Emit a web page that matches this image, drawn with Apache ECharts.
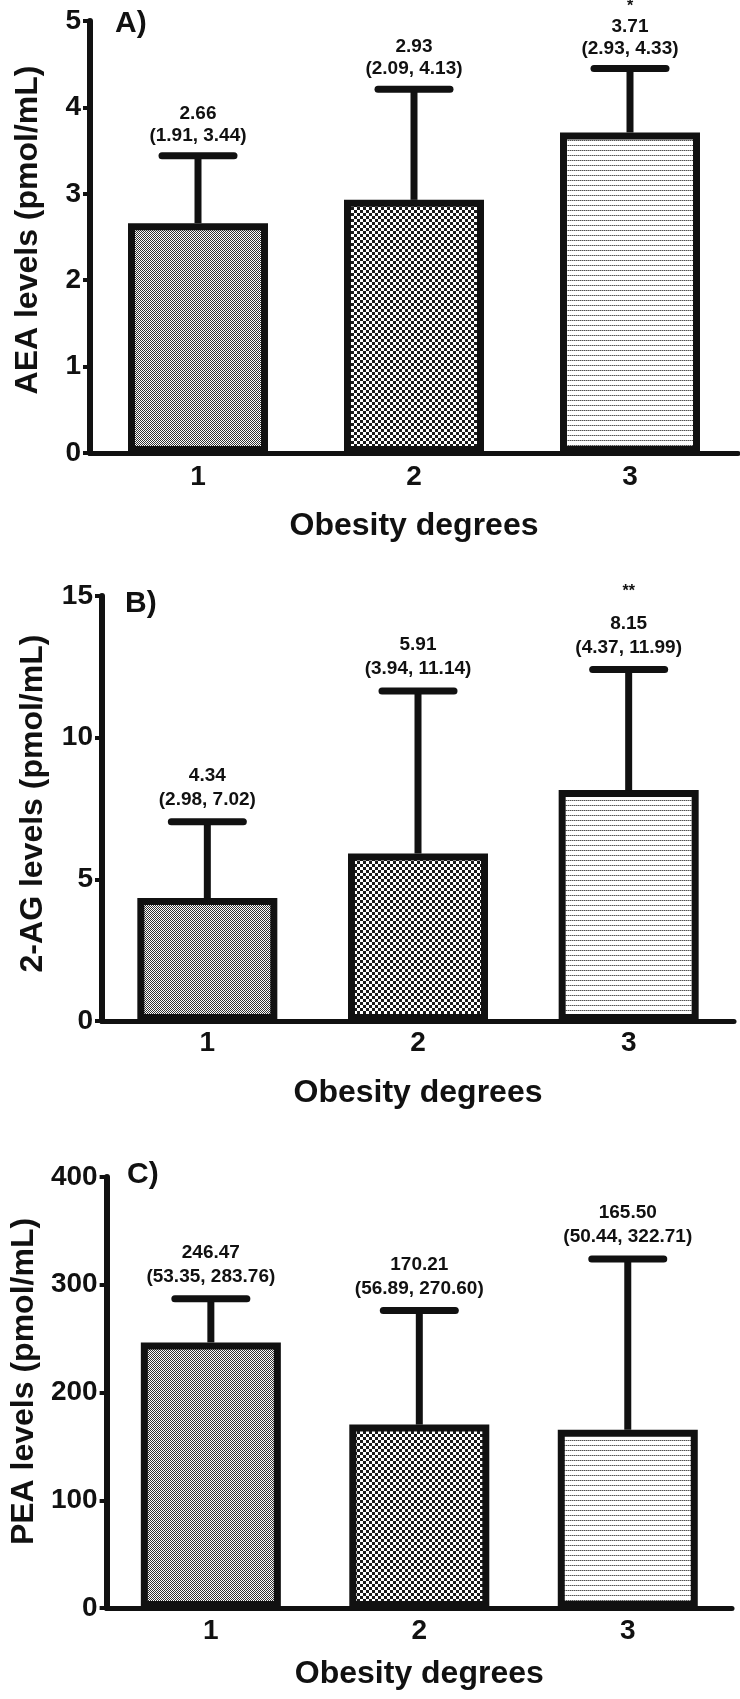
<!DOCTYPE html>
<html>
<head>
<meta charset="utf-8">
<script src="https://cdn.jsdelivr.net/npm/echarts@6/dist/echarts.min.js"></script>
<style>
  html, body { margin: 0; padding: 0; background: #fff; }
</style>
</head>
<body>
<div id="main" style="width:740px;height:1699px"></div>
<script>
// obesity degree categories
const categories = ['1', '2', '3'];

// A) AEA, pmol/mL
const aeaMedian = [2.66, 2.93, 3.71];
const aeaQ1 = [1.91, 2.09, 2.93];
const aeaQ3 = [3.44, 4.13, 4.33];
const aeaWhisker = [3.44, 4.21, 4.45];   // drawn cap height
const aeaStars = ['', '', '*'];

// B) 2-AG, pmol/mL
const agMedian = [4.34, 5.91, 8.15];
const agQ1 = [2.98, 3.94, 4.37];
const agQ3 = [7.02, 11.14, 11.99];
const agWhisker = [7.03, 11.65, 12.41];
const agStars = ['', '', '**'];

// C) PEA, pmol/mL
const peaMedian = [246.47, 170.21, 165.50];
const peaQ1 = [53.35, 56.89, 50.44];
const peaQ3 = [283.76, 270.60, 322.71];
const peaWhisker = [287, 276, 324];
const peaStars = ['', '', ''];

const FONT = '"Liberation Sans", Arial, sans-serif';
const INK = '#111';

// fill patterns: fine stipple, coarse checker, horizontal lines
function makePattern(kind) {
  const c = document.createElement('canvas');
  const ctx = c.getContext('2d');
  if (kind === 'stipple') {
    c.width = 4; c.height = 4;
    ctx.fillStyle = '#fff';
    ctx.fillRect(0, 0, 4, 4);
    ctx.fillStyle = '#333';
    for (let y = 0; y < 4; y++) {
      for (let x = 0; x < 4; x++) {
        if ((x + y) % 2 === 0) ctx.fillRect(x, y, 1, 1);
      }
    }
  } else if (kind === 'checker') {
    c.width = 6; c.height = 6;
    ctx.fillStyle = '#fff';
    ctx.fillRect(0, 0, 6, 6);
    ctx.fillStyle = '#1a1a1a';
    ctx.fillRect(0, 0, 3, 3);
    ctx.fillRect(3, 3, 3, 3);
  } else {
    c.width = 4; c.height = 5;
    ctx.fillStyle = '#fff';
    ctx.fillRect(0, 0, 4, 5);
    ctx.fillStyle = '#555';
    ctx.fillRect(0, 0, 1, 1);
    ctx.fillRect(2, 0, 1, 1);
    ctx.fillStyle = '#aaa';
    ctx.fillRect(1, 0, 1, 1);
    ctx.fillRect(3, 0, 1, 1);
  }
  return { image: c, repeat: 'repeat' };
}
const fills = [makePattern('stipple'), makePattern('checker'), makePattern('lines')];

const grids = [
  { left: 90, right: 2, top: 21, height: 432 },
  { left: 102, right: 6, top: 596, height: 425 },
  { left: 103, right: 8, top: 1177, height: 431 }
];

function xAxisFor(i, labelMargin, nameGap) {
  return {
    type: 'category',
    gridIndex: i,
    data: categories,
    name: 'Obesity degrees',
    nameLocation: 'middle',
    nameGap: nameGap,
    nameTextStyle: { fontFamily: FONT, fontWeight: 'bold', fontSize: 32, color: INK },
    axisLine: { lineStyle: { color: INK, width: 5 } },
    axisTick: { alignWithLabel: true, length: 7, lineStyle: { color: INK, width: 5 } },
    axisLabel: { margin: labelMargin, fontFamily: FONT, fontWeight: 'bold', fontSize: 28, color: INK },
    splitLine: { show: false }
  };
}

function yAxisFor(i, max, interval, name, nameGap, shiftUp) {
  return {
    type: 'value',
    gridIndex: i,
    min: 0,
    max: max,
    interval: interval,
    name: name,
    nameLocation: 'middle',
    nameGap: nameGap,
    nameTextStyle: { fontFamily: FONT, fontWeight: 'bold', fontSize: 32, color: INK,
      padding: [0, 0, 0, shiftUp] },
    axisLine: { show: true, lineStyle: { color: INK, width: 6 } },
    axisTick: { show: true, length: 7, lineStyle: { color: INK, width: 4 } },
    axisLabel: { margin: 9, fontFamily: FONT, fontWeight: 'bold', fontSize: 28, color: INK },
    splitLine: { show: false }
  };
}

function barSeries(i, values) {
  return {
    type: 'bar',
    xAxisIndex: i,
    yAxisIndex: i,
    barWidth: 140,
    z: 2,
    data: values.map((v, k) => ({
      value: v,
      itemStyle: { color: fills[k], borderColor: INK, borderWidth: 7 }
    }))
  };
}

// whisker + cap + median (IQR) labels and significance stars
function errorSeries(i, median, whisker, q1, q3, stars, gaps) {
  return {
    type: 'custom',
    xAxisIndex: i,
    yAxisIndex: i,
    z: 3,
    data: categories.map((c, k) => [k, median[k], whisker[k]]),
    encode: { x: 0, y: [1, 2] },
    renderItem: function (params, api) {
      const k = params.dataIndex;
      const base = api.coord([api.value(0), api.value(1)]);
      const top = api.coord([api.value(0), api.value(2)]);
      const x = base[0];
      const children = [
        { type: 'line', shape: { x1: x, y1: base[1], x2: x, y2: top[1] },
          style: { stroke: INK, lineWidth: 7 } },
        { type: 'line', shape: { x1: x - 36, y1: top[1], x2: x + 36, y2: top[1] },
          style: { stroke: INK, lineWidth: 7, lineCap: 'round' } },
        { type: 'text', style: { text: median[k].toFixed(2), x: x, y: top[1] - gaps[0],
            align: 'center', verticalAlign: 'middle', fontFamily: FONT, fontWeight: 'bold',
            fontSize: 19, fill: INK } },
        { type: 'text', style: { text: '(' + q1[k].toFixed(2) + ', ' + q3[k].toFixed(2) + ')',
            x: x, y: top[1] - gaps[1], align: 'center', verticalAlign: 'middle',
            fontFamily: FONT, fontWeight: 'bold', fontSize: 19, fill: INK } }
      ];
      if (stars[k]) {
        children.push({ type: 'text', style: { text: stars[k], x: x, y: top[1] - gaps[2],
          align: 'center', verticalAlign: 'middle', fontFamily: FONT, fontWeight: 'bold',
          fontSize: 16, fill: INK } });
      }
      return { type: 'group', children: children };
    }
  };
}

const myChart = echarts.init(document.getElementById('main'), null, { renderer: 'canvas' });

const option = {
  backgroundColor: '#fff',
  animation: false,
  grid: grids,
  xAxis: [xAxisFor(0, 10, 57), xAxisFor(1, 8, 56), xAxisFor(2, 9, 50)],
  yAxis: [
    yAxisFor(0, 5, 1, 'AEA levels (pmol/mL)', 46, 14),
    yAxisFor(1, 15, 5, '2-AG levels (pmol/mL)', 53, 10),
    yAxisFor(2, 400, 100, 'PEA levels (pmol/mL)', 52, 22)
  ],
  graphic: [
    { type: 'text', left: 115, top: 9, style: { text: 'A)', fontFamily: FONT, fontWeight: 'bold', fontSize: 30, fill: INK } },
    { type: 'text', left: 125, top: 589, style: { text: 'B)', fontFamily: FONT, fontWeight: 'bold', fontSize: 30, fill: INK } },
    { type: 'text', left: 127, top: 1160, style: { text: 'C)', fontFamily: FONT, fontWeight: 'bold', fontSize: 30, fill: INK } }
  ],
  series: [
    barSeries(0, aeaMedian),
    barSeries(1, agMedian),
    barSeries(2, peaMedian),
    errorSeries(0, aeaMedian, aeaWhisker, aeaQ1, aeaQ3, aeaStars, [42, 20, 62]),
    errorSeries(1, agMedian, agWhisker, agQ1, agQ3, agStars, [46, 22, 78]),
    errorSeries(2, peaMedian, peaWhisker, peaQ1, peaQ3, peaStars, [46, 22, 70])
  ]
};

option && myChart.setOption(option);
</script>
</body>
</html>
